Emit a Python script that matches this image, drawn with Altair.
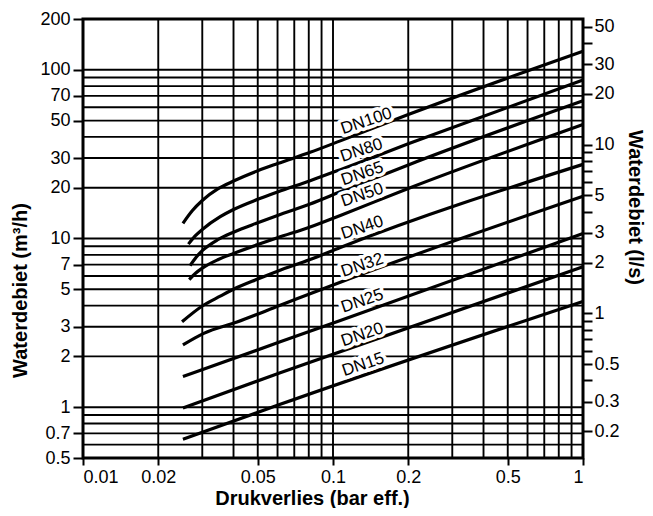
import altair as alt
import pandas as pd

# Axis ticks
x_ticks = [0.01, 0.02, 0.05, 0.1, 0.2, 0.5, 1]
y_ticks = [0.5, 0.7, 1, 2, 3, 5, 7, 10, 20, 30, 50, 70, 100, 200]
ls_ticks = [50, 40, 30, 20, 10, 9, 8, 7, 6, 5, 4, 3, 2, 1, 0.9, 0.8, 0.7, 0.6, 0.5, 0.4, 0.3, 0.2]
ls_labels = [50, 30, 20, 10, 5, 3, 2, 1, 0.5, 0.3, 0.2]

# Grid lines
x_grid = [0.02, 0.03, 0.04, 0.05, 0.06, 0.07, 0.08, 0.09,
          0.1, 0.2, 0.3, 0.4, 0.5, 0.6, 0.7, 0.8, 0.9]
y_grid = [0.6, 0.7, 0.8, 0.9, 1, 2, 3, 4, 5, 6, 7, 8, 9,
          10, 20, 30, 40, 50, 60, 70, 80, 90, 100]

# Curves (Drukverlies bar, Waterdebiet m3/h)
dn100_x = [0.0251, 0.0274, 0.03, 0.0346, 0.04, 0.05, 0.06, 0.081, 0.107, 0.2, 1.0]
dn100_y = [12.3, 14.65, 16.8, 19.66, 21.9, 25.2, 27.8, 32.4, 37.9, 54.3, 128.8]
dn80_x = [0.0264, 0.0281, 0.03, 0.0354, 0.04, 0.05, 0.06, 0.081, 0.107, 0.2, 1.0]
dn80_y = [9.26, 10.36, 11.31, 13.46, 14.85, 17.06, 18.86, 22.0, 25.6, 36.4, 87.1]
dn65_x = [0.0268, 0.0283, 0.03, 0.0346, 0.04, 0.05, 0.06, 0.081, 0.107, 0.2, 1.0]
dn65_y = [6.9, 7.72, 8.47, 9.84, 10.9, 12.4, 13.7, 16.0, 18.9, 27.3, 65.5]
dn50_x = [0.0266, 0.0282, 0.03, 0.0346, 0.04, 0.05, 0.06, 0.081, 0.107, 0.2, 1.0]
dn50_y = [5.71, 6.22, 6.67, 7.48, 8.15, 9.2, 10.1, 11.7, 13.7, 19.8, 47.4]
dn40_x = [0.0249, 0.03, 0.0354, 0.04, 0.05, 0.06, 0.081, 0.107, 1.0]
dn40_y = [3.21, 3.98, 4.55, 5.0, 5.75, 6.4, 7.5, 8.85, 27.5]
dn32_x = [0.0251, 0.0304, 0.0413, 0.0615, 0.107, 1.0]
dn32_y = [2.34, 2.74, 3.2, 4.02, 5.51, 17.8]
dn25_x = [0.0251, 0.0615, 0.107, 1.0]
dn25_y = [1.52, 2.44, 3.27, 10.7]
dn20_x = [0.0251, 0.0615, 1.0]
dn20_y = [0.99, 1.6, 6.8]
dn15_x = [0.0251, 0.0615, 1.0]
dn15_y = [0.645, 1.04, 4.24]

dn_names = ["DN100", "DN80", "DN65", "DN50", "DN40", "DN32", "DN25", "DN20", "DN15"]
label_x = [0.136, 0.130, 0.131, 0.131, 0.131, 0.131, 0.131, 0.131, 0.132]
label_y = [49.6, 33.3, 24.2, 18.1, 11.6, 6.94, 4.26, 2.69, 1.79]

series = [(dn100_x, dn100_y), (dn80_x, dn80_y), (dn65_x, dn65_y), (dn50_x, dn50_y),
          (dn40_x, dn40_y), (dn32_x, dn32_y), (dn25_x, dn25_y), (dn20_x, dn20_y),
          (dn15_x, dn15_y)]

rows = []
for name, (xs, ys) in zip(dn_names, series):
    for i, (a, b) in enumerate(zip(xs, ys)):
        rows.append({"dn": name, "x": a, "y": b, "order": i})
df_curves = pd.DataFrame(rows)
df_labels = pd.DataFrame({"dn": dn_names, "x": label_x, "y": label_y})
df_xgrid = pd.DataFrame({"x": x_grid})
df_ygrid = pd.DataFrame({"y": y_grid})
df_ls = pd.DataFrame({"ls": ls_ticks})

FONT = "Liberation Sans"

x_scale = alt.Scale(type="log", domain=[0.01, 1], nice=False)
y_scale = alt.Scale(type="log", domain=[0.5, 200], nice=False)

X = alt.X("x:Q", scale=x_scale,
          axis=alt.Axis(values=x_ticks, format="~g", title="Drukverlies (bar eff.)",
                        tickSize=7, labelPadding=3, titleX=229, titleY=46,
                        titleBaseline="alphabetic", titleAlign="center"))
Y = alt.Y("y:Q", scale=y_scale,
          axis=alt.Axis(values=y_ticks, format="~g", title="Waterdebiet (m³/h)",
                        tickSize=10, labelPadding=3, titleX=-63, titleY=271,
                        titleBaseline="middle", titleAlign="center"))

vgrid = alt.Chart(df_xgrid).mark_rule(color="black", strokeWidth=1.9).encode(x=X)
hgrid = alt.Chart(df_ygrid).mark_rule(color="black", strokeWidth=1.9).encode(y=Y)

lines = alt.Chart(df_curves).mark_line(
    color="black", strokeWidth=3.2, interpolate="monotone"
).encode(x=X, y=Y, detail="dn:N", order="order:Q")

halo = alt.Chart(df_labels).mark_text(
    angle=341.4, font=FONT, fontSize=17, align="center", baseline="middle",
    color="white", stroke="white", strokeWidth=7, strokeJoin="round"
).encode(x=X, y=Y, text="dn:N")

labels = alt.Chart(df_labels).mark_text(
    angle=341.4, font=FONT, fontSize=17, align="center", baseline="middle",
    color="black"
).encode(x=X, y=Y, text="dn:N")

left = alt.layer(vgrid, hgrid, lines, halo, labels)

label_list = ",".join(str(v) for v in ls_labels)
right = alt.Chart(df_ls).mark_rule(opacity=0).encode(
    y=alt.Y("ls:Q",
            scale=alt.Scale(type="log", domain=[0.5 / 3.6, 200 / 3.6], nice=False),
            axis=alt.Axis(orient="right", values=ls_ticks, format="~g",
                          labelExpr=f"indexof([{label_list}], datum.value) >= 0 ? datum.label : ''",
                          title="Waterdebiet (l/s)", tickSize=9, labelPadding=2,
                          titleX=51, titleY=188, titleBaseline="middle",
                          titleAlign="center"))
)

chart = alt.layer(left, right).resolve_scale(y="independent").properties(
    width=500, height=439,
    autosize=alt.AutoSizeParams(type="none"),
    padding={"left": 75, "top": 11, "right": 62, "bottom": 50},
).configure_view(
    stroke="black", strokeWidth=3
).configure_axis(
    domain=False, grid=False, labelFont=FONT, labelFontSize=18, labelColor="black",
    tickColor="black", tickWidth=2, titleFont=FONT, titleFontSize=20,
    titleFontWeight="bold", titleColor="black"
)

chart.save("out.html", embed_options={"renderer": "svg", "actions": False})
